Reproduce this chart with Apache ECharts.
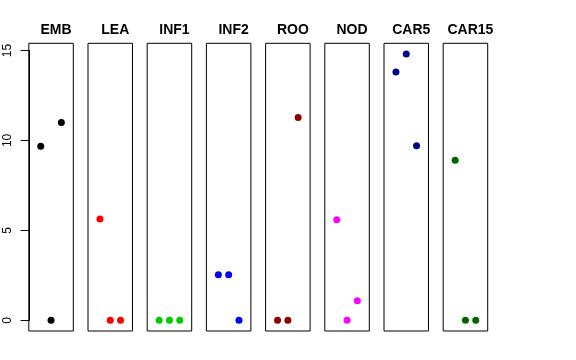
<!DOCTYPE html>
<html>
<head>
<meta charset="utf-8">
<script src="https://cdn.jsdelivr.net/npm/echarts@6/dist/echarts.min.js"></script>
<style>html,body{margin:0;padding:0;background:#fff;}#c{width:576px;height:360px;}</style>
</head>
<body>
<div id="c"></div>
<script>
// ---- data ----
var panels = ['EMB', 'LEA', 'INF1', 'INF2', 'ROO', 'NOD', 'CAR5', 'CAR15'];
var xPositions = [1, 2, 3];
var EMB   = [9.68, 0, 11.0];
var LEA   = [5.63, 0, 0];
var INF1  = [0, 0, 0];
var INF2  = [2.53, 2.53, 0];
var ROO   = [0, 0, 11.28];
var NOD   = [5.59, 0, 1.09];
var CAR5  = [13.81, 14.81, 9.70];
var CAR15 = [8.9, 0, 0];
var yTicks = [0, 5, 10, 15];

// ---- styling ----
var values = [EMB, LEA, INF1, INF2, ROO, NOD, CAR5, CAR15];
var colors = ['#000000', '#FF0000', '#00CD00', '#0000FF', '#8B0000', '#FF00FF', '#00008B', '#006400'];
var yMin = -0.592, yMax = 15.40;
var xMin = -0.16, xMax = 4.16;
var left0 = 28.8, pitch = 59.2, pw = 44.5, panelTop = 43.3, ph = 287.7;
var tickLen = 8;
var pxPerUnit = ph / (yMax - yMin);
var yTickMin = yTicks[0], yTickMax = yTicks[yTicks.length - 1], yTickStep = yTicks[1] - yTicks[0];

var grids = [], xAxes = [], yAxes = [], series = [], titles = [];
panels.forEach(function (name, i) {
  var l = left0 + pitch * i;
  grids.push({left: l, top: panelTop, width: pw, height: ph, show: true,
    outerBoundsMode: 'none', containLabel: false,
    borderColor: '#000', borderWidth: 1, backgroundColor: 'transparent'});
  xAxes.push({gridIndex: i, type: 'value', min: xMin, max: xMax, show: false});
  yAxes.push({gridIndex: i, type: 'value', min: yMin, max: yMax, show: false});
  series.push({
    type: 'scatter', xAxisIndex: i, yAxisIndex: i, symbol: 'circle', symbolSize: 7,
    itemStyle: {color: colors[i], opacity: 1}, silent: true,
    data: xPositions.map(function (x, k) { return [x, values[i][k]]; })
  });
  titles.push({text: name, left: l + pw / 2, top: 18, textAlign: 'center',
    textStyle: {fontSize: 14, fontWeight: 'bold', color: '#000', fontFamily: 'Liberation Sans, Arial, sans-serif'}});
});

// axis grid spanning exactly the tick range 0..15 (labels + axis line)
var axTop = panelTop + (yMax - yTickMax) * pxPerUnit;
var axH = (yTickMax - yTickMin) * pxPerUnit;
grids.push({left: left0, top: axTop, width: 10, height: axH, show: false,
  outerBoundsMode: 'none', containLabel: false});
xAxes.push({gridIndex: 8, type: 'value', min: 0, max: 1, show: false});
yAxes.push({gridIndex: 8, type: 'value', min: yTickMin, max: yTickMax, interval: yTickStep,
  position: 'left',
  axisLine: {show: true, lineStyle: {color: '#000', width: 1}},
  axisTick: {show: true, inside: false, length: tickLen, lineStyle: {color: '#000', width: 1}},
  splitLine: {show: false},
  axisLabel: {show: true, rotate: 90, margin: 15, fontSize: 12, color: '#000',
    fontFamily: 'Liberation Sans, Arial, sans-serif'}});

var chart = echarts.init(document.getElementById('c'), null, {renderer: 'canvas'});
chart.setOption({
  animation: false,
  backgroundColor: '#fff',
  title: titles,
  grid: grids,
  xAxis: xAxes,
  yAxis: yAxes,
  series: series
});

// outward tick marks placed through the first panel's y scale
var tickEls = yTicks.map(function (v) {
  var p = chart.convertToPixel({xAxisIndex: 0, yAxisIndex: 0}, [xMin, v]);
  var y = Math.round(p[1]) + 0.5;
  return {type: 'line', silent: true, z: 100,
    shape: {x1: p[0] - tickLen, y1: y, x2: p[0], y2: y},
    style: {stroke: '#000', lineWidth: 1}};
});
chart.setOption({graphic: {elements: tickEls}});
</script>
</body>
</html>
